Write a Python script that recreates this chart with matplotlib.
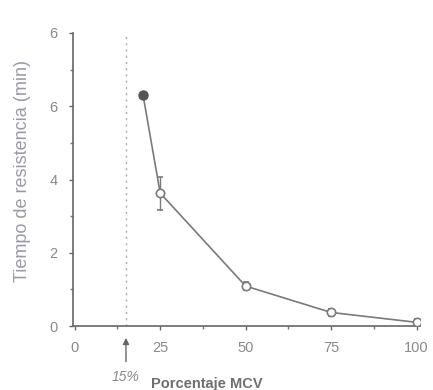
import matplotlib
matplotlib.use("Agg")
import matplotlib.pyplot as plt
from matplotlib.ticker import MultipleLocator

# Data
pct_open = [25, 50, 75, 100]
time_open = [3.63, 1.09, 0.37, 0.10]
err_open = [0.45, 0.10, 0.10, 0.08]
pct_filled = [20]
time_filled = [6.3]
threshold = 15
xticks = [0, 25, 50, 75, 100]
yticks = [0, 2, 4, 6, 8]
ytick_labels = ["0", "2", "4", "6", "6"]

plt.rcParams['font.family'] = ['Liberation Sans', 'DejaVu Sans']
grey = '#8a8a8a'
line_c = '#7a7a7a'

fig = plt.figure(figsize=(4.33, 3.90), dpi=100)
ax = fig.add_axes([73/433, 1-326/390, (420-73)/433, (326-33)/390])

# connecting line from filled point through open points
ax.plot(pct_filled + pct_open, time_filled + time_open, color=line_c, lw=1.2, zorder=2)
ax.errorbar(pct_open, time_open, yerr=err_open, fmt='o', mfc='white', mec=line_c,
            ecolor=line_c, elinewidth=1.0, capsize=2.5, ms=6, mew=1.2, zorder=3)
ax.plot(pct_filled, time_filled, 'o', color='#555555', ms=6.5, zorder=4)

ax.axvline(threshold, color='#aaaaaa', lw=1.0, ls=(0, (1.5, 3)), zorder=1)

ax.set_xlim(-0.5, 101)
ax.set_ylim(0, 8)
ax.set_xticks(xticks)
ax.set_yticks(yticks)
ax.set_yticklabels(ytick_labels)
ax.xaxis.set_minor_locator(MultipleLocator(12.5))
ax.yaxis.set_minor_locator(MultipleLocator(1))
for s in ['top', 'right']:
    ax.spines[s].set_visible(False)
for s in ['left', 'bottom']:
    ax.spines[s].set_color('#666666')
    ax.spines[s].set_linewidth(1.2)
ax.tick_params(axis='both', which='major', direction='out', length=3, width=1,
               color='#666666', labelcolor=grey, labelsize=10.5, pad=8)
ax.tick_params(axis='both', which='minor', direction='out', length=2, width=1, color='#777777')

ax.set_ylabel('Tiempo de resistencia (min)', color='#9a9aa6', fontsize=13)
ax.yaxis.set_label_coords(-0.12, 0.53)
ax.set_xlabel('Porcentaje MCV', color='#6f6f6f', fontsize=10.5, fontweight='bold')
ax.xaxis.set_label_coords(0.385, -0.175)

# arrow and 15% label below axis
ax.annotate('', xy=(threshold, -0.25), xytext=(threshold, -1.05),
            xycoords='data', textcoords='data', annotation_clip=False,
            arrowprops=dict(arrowstyle='-|>', color='#666666', lw=1.0, mutation_scale=9))
ax.text(threshold, -1.38, '15%', color=grey, fontsize=10, style='italic',
        ha='center', va='center', clip_on=False)

fig.savefig('out.png', dpi=100, facecolor='white')
